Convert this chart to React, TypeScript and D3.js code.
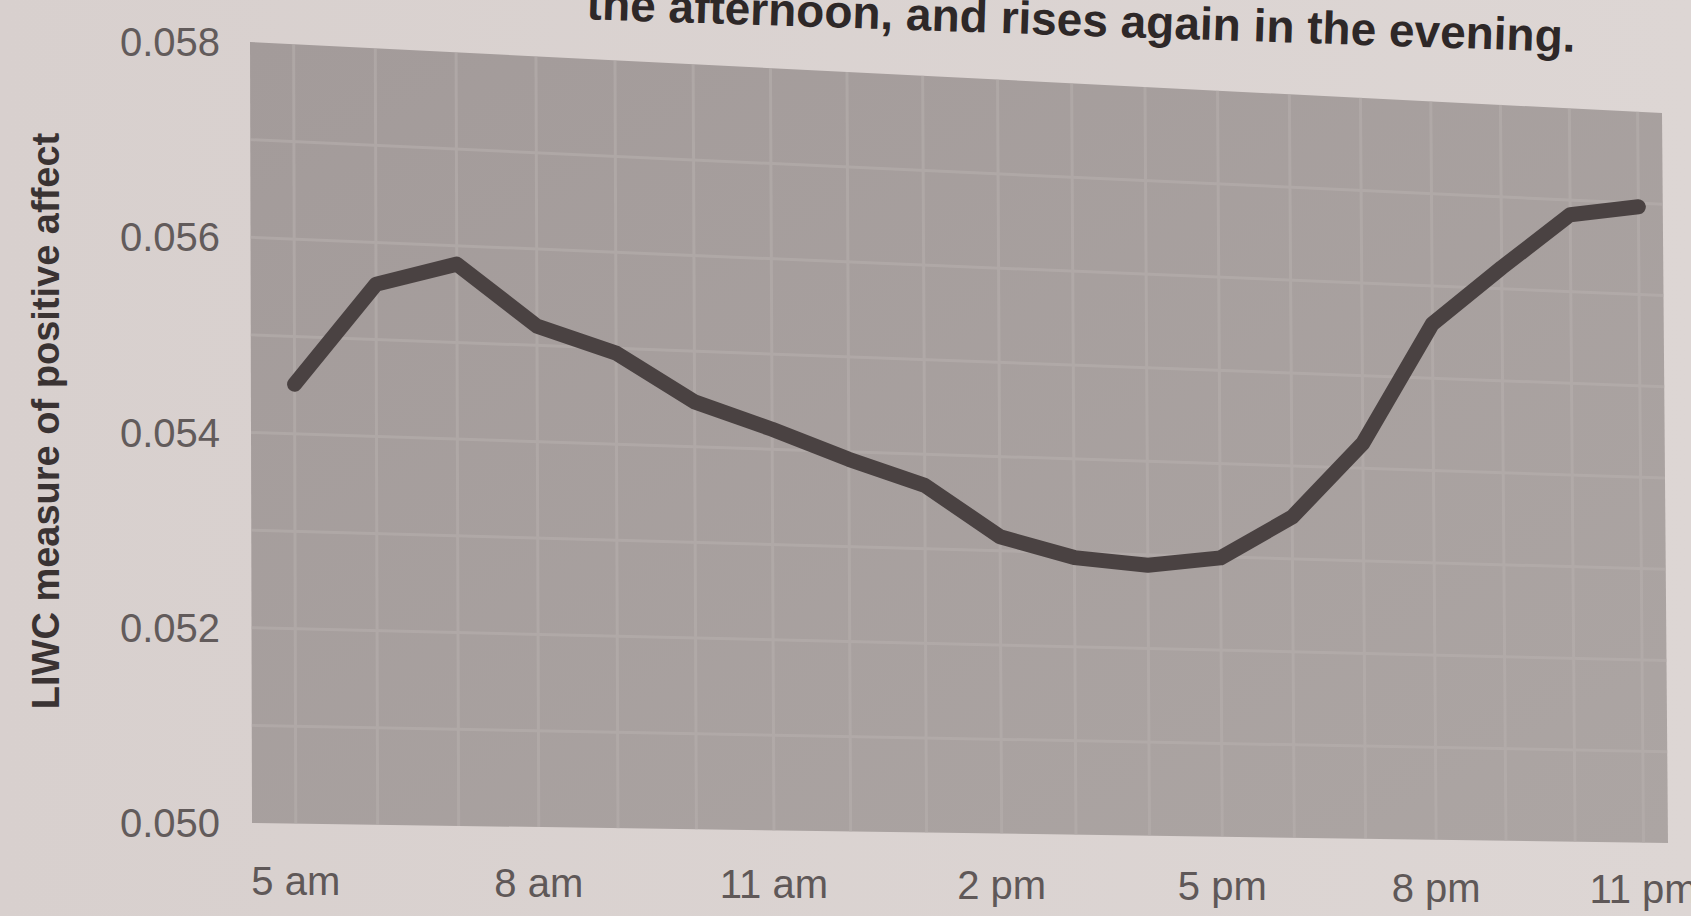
import React from "react";
import * as d3 from "d3";

// ---- data ----
const HOURS = [5, 6, 7, 8, 9, 10, 11, 12, 13, 14, 15, 16, 17, 18, 19, 20, 21, 22, 23];
const AFFECT = [
  0.05451, 0.05557, 0.05581, 0.0552, 0.05495, 0.05447, 0.05421, 0.05392, 0.05367, 0.05315,
  0.05295, 0.05289, 0.05299, 0.05345, 0.05427, 0.05559, 0.05623, 0.05684, 0.05696,
];
const Y_TICKS = [0.05, 0.052, 0.054, 0.056, 0.058];
const Y_TICK_LABELS = ["0.050", "0.052", "0.054", "0.056", "0.058"];
const X_TICK_HOURS = [5, 8, 11, 14, 17, 20, 23];
const X_TICK_LABELS = ["5 am", "8 am", "11 am", "2 pm", "5 pm", "8 pm", "11 pm"];
const GRID_HOURS = [5, 6, 7, 8, 9, 10, 11, 12, 13, 14, 15, 16, 17, 18, 19, 20, 21, 22, 23];
const GRID_VALUES = [0.051, 0.052, 0.053, 0.054, 0.055, 0.056, 0.057];
const TITLE = "the afternoon, and rises again in the evening.";
const Y_TITLE = "LIWC measure of positive affect";

const W = 1691;
const H = 916;
const FONT = "'Liberation Sans', Arial, Helvetica, sans-serif";

// perspective of the photographed page
const K = 0.105;
const lerp = (a: number, b: number, t: number) => a + (b - a) * t;
function proj(u: number, v: number) {
  const s = (u * (1 + K)) / (1 + K * u);
  const xl = lerp(250, 252, v);
  const xr = lerp(1662, 1668, v);
  const x = xl + (xr - xl) * s;
  const yT = 42 + 71 * s;
  const yB = 823 + 20 * s;
  return { x, y: yT + (yB - yT) * v, s };
}

export default function App() {
  const xScale = d3.scaleLinear().domain([4.47, 23.36]).range([0, 1]);
  const yScale = d3.scaleLinear().domain([0.05, 0.058]).range([1, 0]);

  const data: [number, number][] = HOURS.map((h, i) => [h, AFFECT[i]]);
  const line = d3
    .line<[number, number]>()
    .x((d) => proj(xScale(d[0]), yScale(d[1])).x)
    .y((d) => proj(xScale(d[0]), yScale(d[1])).y)
    .curve(d3.curveLinear);

  const corners = [proj(0, 0), proj(1, 0), proj(1, 1), proj(0, 1)];
  const plotPath = "M" + corners.map((c) => `${c.x},${c.y}`).join("L") + "Z";

  const titleAngle = 1.9;

  return (
    <svg
      width={W}
      height={H}
      style={{ position: "absolute", left: 0, top: 0, display: "block" }}
    >
      <defs>
        <linearGradient id="plotFill" x1="0" y1="0" x2="1" y2="1">
          <stop offset="0%" stopColor="#a39b9a" />
          <stop offset="100%" stopColor="#aca5a3" />
        </linearGradient>
        <linearGradient id="pageFill" x1="0" y1="0" x2="1" y2="0">
          <stop offset="0%" stopColor="#d8d0ce" />
          <stop offset="100%" stopColor="#ddd6d4" />
        </linearGradient>
      </defs>
      <rect x={0} y={0} width={W} height={H} fill="url(#pageFill)" />

      {/* title, partly cut off at the top as in the photograph */}
      <text
        x={1575}
        y={52}
        textAnchor="end"
        fontFamily={FONT}
        fontWeight="bold"
        fontSize={46}
        fill="#2e2828"
        transform={`rotate(${titleAngle} 1575 52)`}
      >
        {TITLE}
      </text>

      {/* plot area */}
      <path d={plotPath} fill="url(#plotFill)" />

      {/* grid */}
      <g stroke="#b8b1af" strokeWidth={3} opacity={0.55}>
        {GRID_HOURS.map((h) => {
          const a = proj(xScale(h), 0);
          const b = proj(xScale(h), 1);
          return <line key={"v" + h} x1={a.x} y1={a.y} x2={b.x} y2={b.y} />;
        })}
        {GRID_VALUES.map((val) => {
          const a = proj(0, yScale(val));
          const b = proj(1, yScale(val));
          return <line key={"h" + val} x1={a.x} y1={a.y} x2={b.x} y2={b.y} />;
        })}
      </g>

      {/* data line */}
      <path
        d={line(data) || ""}
        fill="none"
        stroke="#4a4242"
        strokeWidth={15}
        strokeLinejoin="round"
        strokeLinecap="round"
      />

      {/* y tick labels */}
      {Y_TICKS.map((t, i) => {
        const p = proj(0, yScale(t));
        return (
          <text
            key={"yt" + t}
            x={220}
            y={p.y}
            textAnchor="end"
            dominantBaseline="central"
            fontFamily={FONT}
            fontSize={40}
            fill="#625b5b"
          >
            {Y_TICK_LABELS[i]}
          </text>
        );
      })}

      {/* x tick labels */}
      {X_TICK_HOURS.map((h, i) => {
        const p = proj(xScale(h), 1);
        return (
          <text
            key={"xt" + h}
            x={p.x}
            y={895 + 8 * p.s}
            textAnchor="middle"
            fontFamily={FONT}
            fontSize={40}
            fill="#5f5858"
          >
            {X_TICK_LABELS[i]}
          </text>
        );
      })}

      {/* y axis title */}
      <text
        x={0}
        y={0}
        transform="translate(46 421) rotate(-90)"
        textAnchor="middle"
        dominantBaseline="central"
        fontFamily={FONT}
        fontWeight="bold"
        fontSize={38}
        fill="#3a3333"
      >
        {Y_TITLE}
      </text>
    </svg>
  );
}
